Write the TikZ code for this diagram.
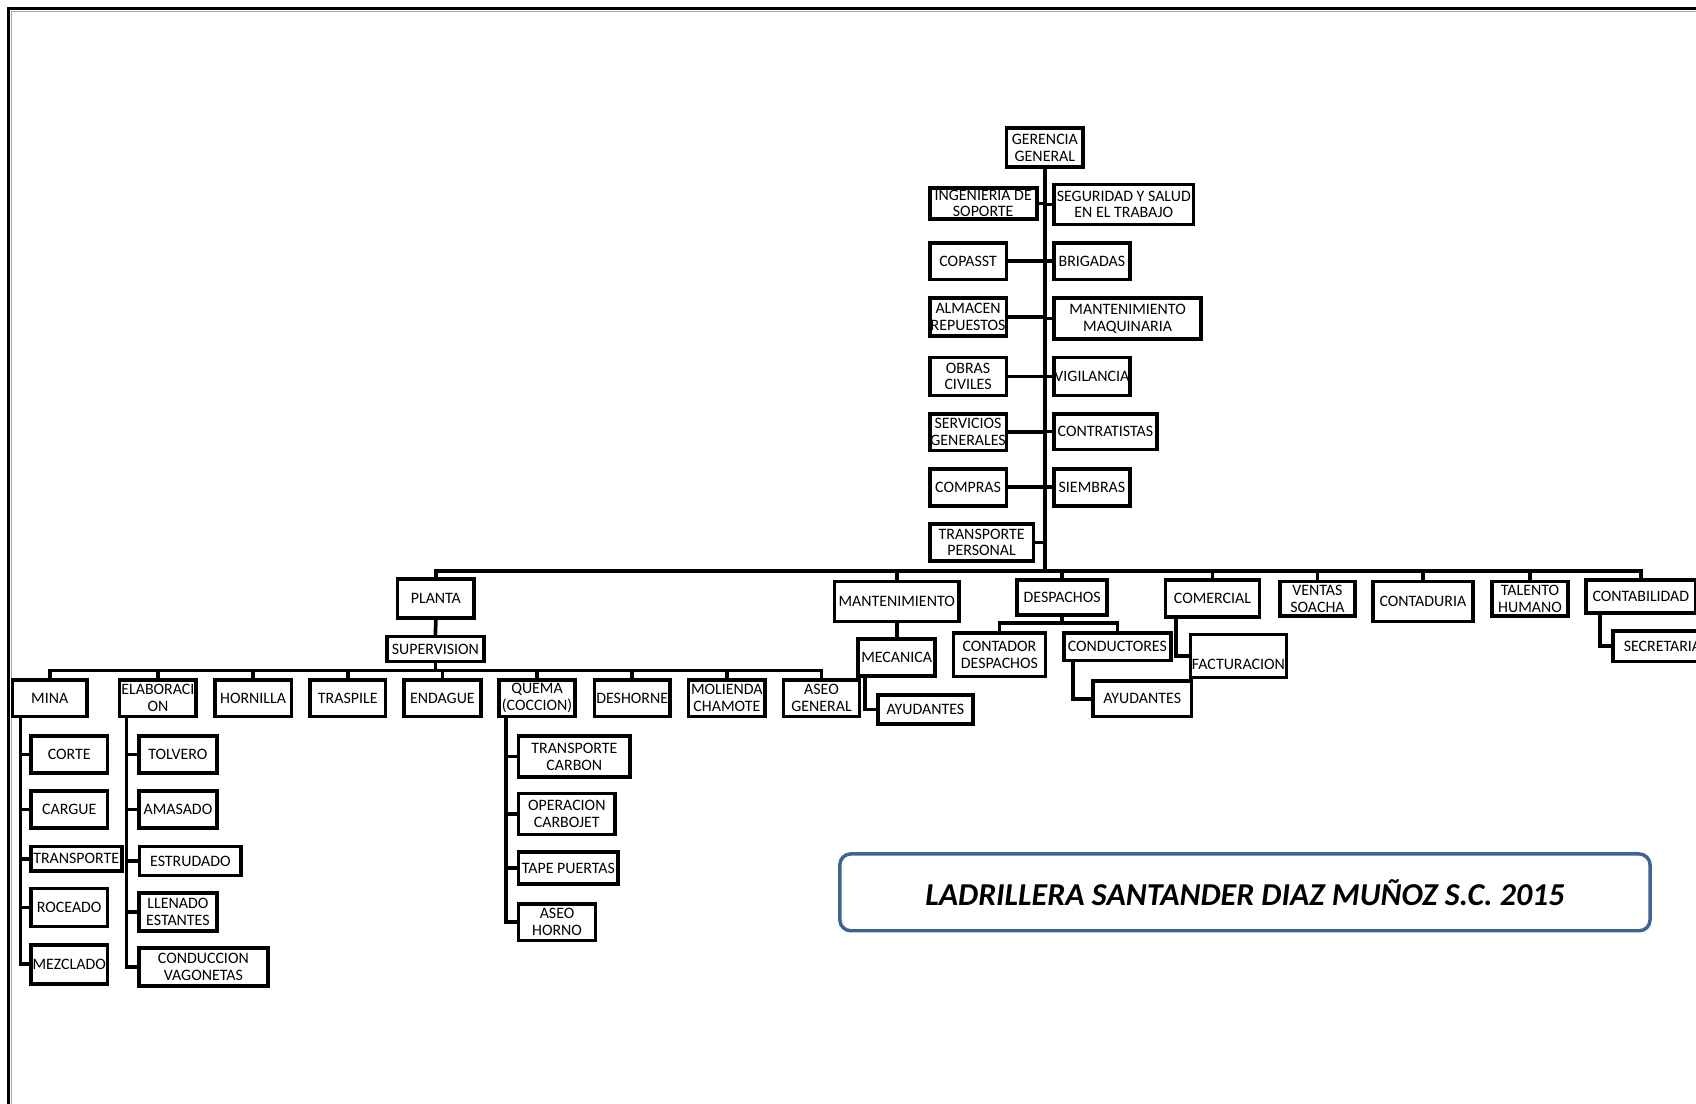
\documentclass[tikz,border=0pt]{standalone}
\usepackage{fontspec}
\setmainfont{Carlito}
\definecolor{titleblue}{RGB}{64,100,145}
\newcommand\boxfont{\fontsize{14.7pt}{15.5pt}\selectfont}
\newcommand\titlefont{\fontsize{29.5pt}{33pt}\selectfont\bfseries\itshape}
\newcommand\bx[6]{\node[box,minimum width=#4pt,minimum height=#5pt] (#1) at (#2,#3) {#6};}
\begin{document}
\begin{tikzpicture}[x=1pt,y=-1pt,
  box/.style={draw, line width=3.4pt, inner sep=0pt, align=center, font=\boxfont},
  conn/.style={line width=3.4pt, line cap=rect}]
\useasboundingbox (0,0) rectangle (1568,1020);
% page frame
\draw[line width=2.8pt] (8.3,1030) -- (8.3,8.3) -- (1580,8.3);
\draw[gray!70, line width=1.2pt] (10.6,1030) -- (10.6,10.6) -- (1580,10.6);
% top
\bx{gg}{966}{136.5}{71}{36}{GERENCIA\\GENERAL}
\bx{ing}{909}{188}{99}{29}{INGENIERIA DE\\SOPORTE}
\bx{seg}{1039}{189}{129}{37}{SEGURIDAD Y SALUD\\EN EL TRABAJO}
\bx{cop}{895}{241.5}{71}{34}{COPASST}
\bx{bri}{1009.5}{241.5}{70}{34}{BRIGADAS}
\bx{alm}{895}{293}{71}{35}{ALMACEN\\REPUESTOS}
\bx{mmq}{1042.5}{294.5}{136}{38}{MANTENIMIENTO\\MAQUINARIA}
\bx{obr}{895}{348}{71}{35}{OBRAS\\CIVILES}
\bx{vig}{1009.5}{348}{70}{35}{VIGILANCIA}
\bx{ser}{895}{399.5}{71}{34}{SERVICIOS\\GENERALES}
\bx{ctr}{1022}{399}{95}{33}{CONTRATISTAS}
\bx{cmp}{895}{450.5}{71}{34}{COMPRAS}
\bx{sie}{1009.5}{450.5}{70}{34}{SIEMBRAS}
\bx{tpe}{907.5}{501.5}{96}{34}{TRANSPORTE\\PERSONAL}
% second level
\bx{planta}{403}{553.5}{71}{36}{PLANTA}
\bx{mant}{829}{556}{115}{37}{MANTENIMIENTO}
\bx{desp}{982}{552.5}{83}{32}{DESPACHOS}
\bx{comer}{1121}{553.5}{87}{34}{COMERCIAL}
\bx{ventas}{1218}{553.5}{69}{32}{VENTAS\\SOACHA}
\bx{contad}{1315.5}{556}{92}{37}{CONTADURIA}
\bx{talento}{1414.5}{553.5}{70}{32}{TALENTO\\HUMANO}
\bx{contab}{1517}{551.5}{101}{30}{CONTABILIDAD}
% planta branch
\bx{sup}{402.5}{600}{90}{23}{SUPERVISION}
\bx{mina}{46}{645.5}{69}{34}{MINA}
\bx{elab}{146}{645.5}{71}{34}{ELABORACI\\ON}
\bx{horn}{234}{645.5}{71}{34}{HORNILLA}
\bx{trasp}{321.5}{645.5}{70}{34}{TRASPILE}
\bx{endag}{409}{645.5}{71}{34}{ENDAGUE}
\bx{quema}{496.5}{645.5}{70}{34}{QUEMA\\(COCCION)}
\bx{desh}{584.5}{645.5}{70}{34}{DESHORNE}
\bx{moli}{672}{645.5}{71}{34}{MOLIENDA\\CHAMOTE}
\bx{aseo}{759.5}{645.5}{70}{34}{ASEO\\GENERAL}
% mina children
\bx{corte}{64}{697.5}{71}{34}{CORTE}
\bx{cargue}{64}{748.5}{71}{34}{CARGUE}
\bx{transp}{70.5}{794}{84}{23}{TRANSPORTE}
\bx{roce}{64}{839}{71}{35}{ROCEADO}
\bx{mezc}{64}{891.5}{71}{36}{MEZCLADO}
% elaboracion children
\bx{tolv}{164.5}{697.5}{72}{34}{TOLVERO}
\bx{amas}{164.5}{748.5}{72}{34}{AMASADO}
\bx{estr}{176}{796}{94}{27}{ESTRUDADO}
\bx{llen}{164.5}{843}{72}{35}{LLENADO\\ESTANTES}
\bx{condv}{188}{894}{119}{35}{CONDUCCION\\VAGONETAS}
% quema children
\bx{tcar}{531}{699.5}{103}{38}{TRANSPORTE\\CARBON}
\bx{opc}{524}{752.5}{89}{38}{OPERACION\\CARBOJET}
\bx{tape}{525.5}{802.5}{92}{30}{TAPE PUERTAS}
\bx{aseoh}{515}{852.5}{71}{34}{ASEO\\HORNO}
% mantenimiento branch
\bx{mec}{829}{608}{71}{34}{MECANICA}
\bx{ayud1}{855.5}{656}{88}{27}{AYUDANTES}
% despachos branch
\bx{cdes}{924}{605.5}{85}{40}{CONTADOR\\DESPACHOS}
\bx{cond}{1033}{598}{99}{25}{CONDUCTORES}
\bx{ayud2}{1056}{646}{91}{33}{AYUDANTES}
% comercial branch
\node[box,minimum width=89pt,minimum height=40pt,label={[font=\boxfont,yshift=-8pt]center:FACTURACION}] (fact) at (1145,606.5) {};
% contabilidad branch
\bx{secr}{1537}{597.5}{91}{28}{SECRETARIA}
% title
\node[draw=titleblue, line width=3.2pt, rounded corners=10pt, minimum width=749pt, minimum height=71pt, font=\titlefont] (title) at (1151,825) {LADRILLERA SANTANDER DIAZ MUÑOZ S.C. 2015};

% connectors
\coordinate (tb) at (966,528);
\draw[conn] (gg.south) -- (tb);
\foreach \n in {ing,cop,alm,obr,ser,cmp,tpe} \draw[conn] (\n.east) -- (\n.east -| gg.south);
\foreach \n in {seg,bri,mmq,vig,ctr,sie} \draw[conn] (\n.west) -- (\n.west -| gg.south);
\draw[conn] (planta.north |- tb) -- (contab.north |- tb);
\foreach \n in {planta,mant,desp,comer,ventas,contad,talento,contab} \draw[conn] (\n.north) -- (\n.north |- tb);
\draw[conn] (planta.south) -- (sup.north);
\coordinate (sb) at (0,620);
\draw[conn] (sup.south) -- (sup.south |- sb);
\draw[conn] (mina.north |- sb) -- (aseo.north |- sb);
\foreach \n in {mina,elab,horn,trasp,endag,quema,desh,moli,aseo} \draw[conn] (\n.north) -- (\n.north |- sb);
\draw[conn] (mina.south -| 19,0) -- (mezc.west -| 19,0) -- (mezc.west);
\foreach \n in {corte,cargue,transp,roce} \draw[conn] (\n.west) -- (\n.west -| 19,0);
\draw[conn] (elab.south -| 117,0) -- (condv.west -| 117,0) -- (condv.west);
\foreach \n in {tolv,amas,estr,llen} \draw[conn] (\n.west) -- (\n.west -| 117,0);
\draw[conn] (quema.south -| 468,0) -- (aseoh.west -| 468,0) -- (aseoh.west);
\foreach \n in {tcar,opc,tape} \draw[conn] (\n.west) -- (\n.west -| 468,0);
\draw[conn] (mant.south) -- (mec.north);
\draw[conn] (mec.south -| 800,0) -- (ayud1.west -| 800,0) -- (ayud1.west);
\coordinate (db) at (0,576);
\draw[conn] (desp.south) -- (desp.south |- db);
\draw[conn] (cdes.north |- db) -- (cond.north |- db);
\draw[conn] (cdes.north) -- (cdes.north |- db);
\draw[conn] (cond.north) -- (cond.north |- db);
\draw[conn] (cond.south -| 992,0) -- (ayud2.west -| 992,0) -- (ayud2.west);
\draw[conn] (comer.south -| 1087,0) -- (fact.west -| 1087,0) -- (fact.west);
\draw[conn] (contab.south -| 1479,0) -- (secr.west -| 1479,0) -- (secr.west);
\end{tikzpicture}
\end{document}
